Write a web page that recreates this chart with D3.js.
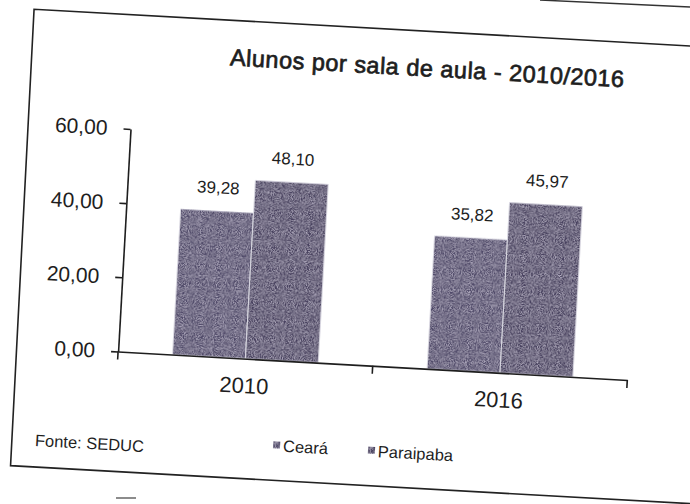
<!DOCTYPE html>
<html>
<head>
<meta charset="utf-8">
<script src="https://cdn.jsdelivr.net/npm/d3@7"></script>
<style>
  body { margin: 0; background: #fff; }
  svg { display: block; }
  text { font-family: "Liberation Sans", Arial, sans-serif; fill: #1e1e1e; }
  .axis path, .axis line { stroke: #1e1e1e; stroke-width: 1.6; }
</style>
</head>
<body>
<main></main>
<script>
const years = ['2010', '2016'];
const series = ['Ceará', 'Paraipaba'];
const ceara = [39.28, 35.82];
const paraipaba = [48.10, 45.97];
const yTicks = [0, 20, 40, 60];
const title = 'Alunos por sala de aula - 2010/2016';
const source = 'Fonte: SEDUC';

const colors = { 'Ceará': '#4f4a69', 'Paraipaba': '#46405f' };

const W = 690;
const H = 504;

const ptBR = d3.formatLocale({ decimal: ',', thousands: '.', grouping: [3], currency: ['R$', ''] });
const fmt = ptBR.format('.2f');

const rows = years.map((y, i) => ({ year: y, values: [
  { key: 'Ceará', value: ceara[i] },
  { key: 'Paraipaba', value: paraipaba[i] }
] }));

const $svg = d3.select('main').append('svg').attr('width', W).attr('height', H);

// scan grain for the bars
const $defs = $svg.append('defs');
const $f = $defs.append('filter').attr('id', 'grain').attr('x', 0).attr('y', 0).attr('width', 1).attr('height', 1);
$f.append('feTurbulence').attr('type', 'fractalNoise').attr('baseFrequency', 1.1).attr('numOctaves', 2).attr('seed', 4).attr('result', 'noise');
$f.append('feColorMatrix').attr('in', 'noise').attr('type', 'matrix')
  .attr('values', '0 0 0 0 0.62  0 0 0 0 0.58  0 0 0 0 0.72  1.5 0 0 0 -0.55')
  .attr('result', 'speck');
$f.append('feComposite').attr('in', 'speck').attr('in2', 'SourceGraphic').attr('operator', 'in').attr('result', 'sp');
$f.append('feMerge').call(m => {
  m.append('feMergeNode').attr('in', 'SourceGraphic');
  m.append('feMergeNode').attr('in', 'sp');
});

// paper edge artefacts outside the tilted sheet
$svg.append('line').attr('x1', 540).attr('y1', 0).attr('x2', 690).attr('y2', 7).attr('stroke', '#333').attr('stroke-width', 1.4);
$svg.append('line').attr('x1', 116).attr('y1', 498).attr('x2', 136).attr('y2', 498).attr('stroke', '#666').attr('stroke-width', 1.5);

const $g = $svg.append('g').attr('transform', 'rotate(3.2, 345, 252)');

// frame
$g.append('path')
  .attr('d', 'M720,27 L21,27 L23,484 L720,484')
  .attr('fill', 'none').attr('stroke', '#222').attr('stroke-width', 1.6);

$g.append('text')
  .attr('x', 417).attr('y', 72)
  .attr('text-anchor', 'middle')
  .style('font-size', '23.5px')
  .style('letter-spacing', '0.5px')
  .style('stroke', '#1e1e1e').style('stroke-width', '0.7px')
  .text(title);

const x = d3.scaleBand().domain(years).range([124, 634]);
const x1 = d3.scaleBand().domain(series).range([0, x.bandwidth()]).paddingOuter(0.746);
const y = d3.scaleLinear().domain([0, 60]).range([364, 141.1]);

const $bars = $g.append('g').selectAll('g').data(rows).join('g')
  .attr('transform', d => `translate(${x(d.year)},0)`);

$bars.selectAll('rect').data(d => d.values).join('rect')
  .attr('x', d => x1(d.key))
  .attr('y', d => y(d.value))
  .attr('width', x1.bandwidth())
  .attr('height', d => y(0) - y(d.value))
  .attr('fill', d => colors[d.key])
  .attr('stroke', '#e8e8ee').attr('stroke-width', 0.8)
  .attr('filter', 'url(#grain)');

$bars.selectAll('text').data(d => d.values).join('text')
  .attr('x', d => x1(d.key) + x1.bandwidth() / 2)
  .attr('y', d => y(d.value) - 17.5)
  .attr('text-anchor', 'middle')
  .style('font-size', '17px')
  .text(d => fmt(d.value));

const $axisY = $g.append('g').attr('class', 'axis')
  .attr('transform', `translate(${x.range()[0]},0)`)
  .call(d3.axisLeft(y).tickValues(yTicks).tickFormat(fmt).tickSize(7).tickSizeOuter(0).tickPadding(16));
$axisY.selectAll('text').style('font-size', '21px');

const $axisX = $g.append('g').attr('class', 'axis')
  .attr('transform', `translate(0,${y(0)})`)
  .call(d3.axisBottom(x).tickSize(0).tickSizeOuter(0).tickPadding(19));
$axisX.selectAll('text').style('font-size', '22px');

// category boundary ticks
const bounds = d3.range(years.length + 1).map(i => x.range()[0] + i * x.step());
$axisX.selectAll('.bound').data(bounds).join('line').attr('class', 'bound')
  .attr('x1', d => d).attr('x2', d => d).attr('y1', 0).attr('y2', 8);

$g.append('text')
  .attr('x', 46).attr('y', 463)
  .style('font-size', '16.5px')
  .text(source);

const legendX = [284, 379];
const $leg = $g.append('g').selectAll('g').data(series).join('g')
  .attr('transform', (d, i) => `translate(${legendX[i]},449)`);
$leg.append('rect')
  .attr('x', 0).attr('y', -4).attr('width', 7).attr('height', 7)
  .attr('fill', d => colors[d]).attr('filter', 'url(#grain)');
$leg.append('text')
  .attr('x', 10).attr('y', 6)
  .style('font-size', '16.5px')
  .text(d => d);
</script>
</body>
</html>
